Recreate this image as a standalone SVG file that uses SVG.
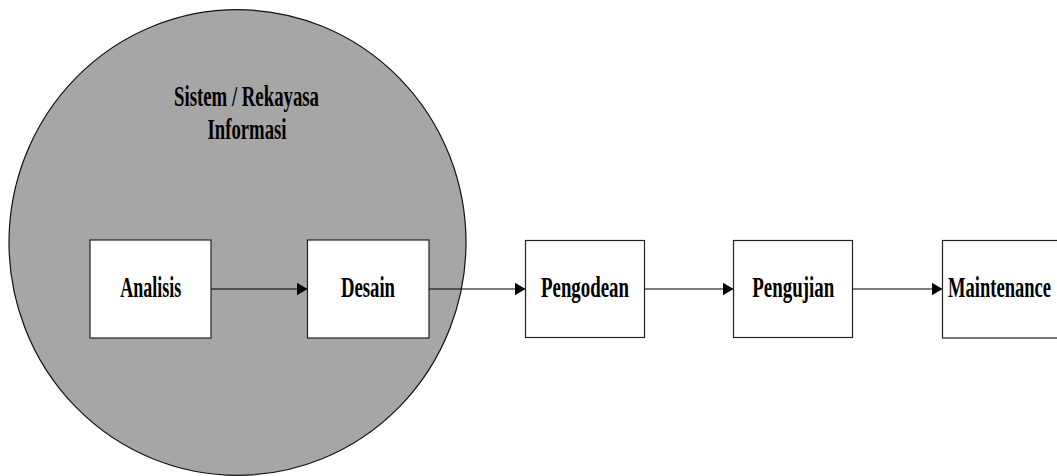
<svg xmlns="http://www.w3.org/2000/svg" width="1057" height="476" viewBox="0 0 1057 476">
<style>
.box{fill:#ffffff;stroke:#222222;stroke-width:1.2}
.lbl{font-family:"Liberation Serif","Times New Roman",serif;font-weight:700;font-size:28.5px;fill:#000000;text-anchor:middle}
.conn{stroke:#000000;stroke-width:1.2;fill:none}
</style>
<defs>
<marker id="arr" markerUnits="userSpaceOnUse" markerWidth="12" markerHeight="14" refX="11" refY="7" orient="auto">
<path d="M0,0.5 L11,7 L0,13.5 Z" fill="#000000"/>
</marker>
</defs>
<rect width="1057" height="476" fill="#ffffff"/>
<g id="sistem">
<ellipse cx="237.5" cy="242.5" rx="228.5" ry="232.8" fill="#a6a6a6" stroke="#111111" stroke-width="1.2"/>
<text class="lbl" x="246.5" y="106" textLength="145" lengthAdjust="spacingAndGlyphs">Sistem / Rekayasa</text>
<text class="lbl" x="247" y="139" textLength="79" lengthAdjust="spacingAndGlyphs">Informasi</text>
</g>
<g id="connectors">
<line class="conn" x1="211" y1="289" x2="307.5" y2="289" marker-end="url(#arr)"/>
<line class="conn" x1="429" y1="289" x2="525.5" y2="289" marker-end="url(#arr)"/>
<line class="conn" x1="644.5" y1="289" x2="733.5" y2="289" marker-end="url(#arr)"/>
<line class="conn" x1="852.5" y1="289" x2="942.5" y2="289" marker-end="url(#arr)"/>
</g>
<g id="analisis">
<rect class="box" x="90" y="240" width="121" height="98"/>
<text class="lbl" x="150.7" y="297" textLength="61" lengthAdjust="spacingAndGlyphs">Analisis</text>
</g>
<g id="desain">
<rect class="box" x="307.5" y="240" width="121.5" height="98"/>
<text class="lbl" x="368" y="297" textLength="54" lengthAdjust="spacingAndGlyphs">Desain</text>
</g>
<g id="pengodean">
<rect class="box" x="525.5" y="240.5" width="119" height="97"/>
<text class="lbl" x="585" y="297" textLength="88" lengthAdjust="spacingAndGlyphs">Pengodean</text>
</g>
<g id="pengujian">
<rect class="box" x="733.5" y="240.5" width="119" height="97"/>
<text class="lbl" x="793.2" y="297" textLength="82" lengthAdjust="spacingAndGlyphs">Pengujian</text>
</g>
<g id="maintenance">
<rect class="box" x="942.5" y="240.5" width="116" height="97.5"/>
<text class="lbl" x="999.5" y="297" textLength="103" lengthAdjust="spacingAndGlyphs">Maintenance</text>
</g>
</svg>
